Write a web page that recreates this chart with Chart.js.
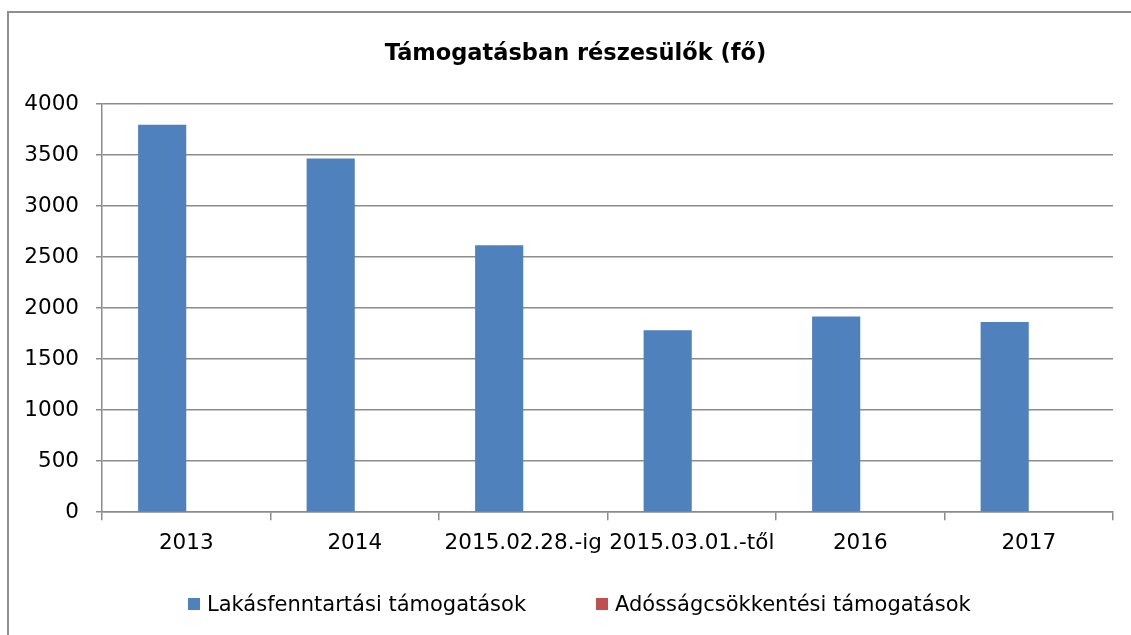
<!DOCTYPE html>
<html><head><meta charset="utf-8">
<script src="https://cdn.jsdelivr.net/npm/chart.js@4.4.1/dist/chart.umd.min.js"></script>
<style>
html,body{margin:0;padding:0;background:#fff;}
#wrap{position:relative;width:1131px;height:635px;overflow:hidden;background:#fff;}
#frame{position:absolute;left:7px;top:11px;width:1200px;height:700px;border-left:2px solid #8e8e8e;border-top:2px solid #8e8e8e;}
canvas{position:absolute;left:0;top:0;}
#legend{position:absolute;top:590px;left:0;width:1131px;height:28px;font-family:'DejaVu Sans';font-size:21px;color:#000;}
.item{position:absolute;top:0;display:flex;align-items:center;height:28px;white-space:nowrap;}
.box{width:12px;height:12px;margin-right:7px;}
</style></head>
<body>
<div id="wrap">
  <div id="frame"></div>
  <canvas id="c" width="1131" height="635"></canvas>
  <div id="legend"></div>
</div>
<script>
const categories = ['2013', '2014', '2015.02.28.-ig', '2015.03.01.-től', '2016', '2017'];
const lakasfenntartasi = [3797, 3465, 2616, 1782, 1917, 1864];
const adossagcsokkentesi = [0, 0, 0, 0, 0, 0];
const seriesNames = ['Lakásfenntartási támogatások', 'Adósságcsökkentési támogatások'];
const seriesColors = ['#4F81BD', '#C0504D'];
const yMax = 4000;
const yStep = 500;
const titleText = 'Támogatásban részesülők (fő)';

const FONT = 'DejaVu Sans';
const GRID = '#8c8c8c';

const chart = new Chart(document.getElementById('c'), {
  type: 'bar',
  data: {
    labels: categories,
    datasets: [
      { label: seriesNames[0], data: lakasfenntartasi, backgroundColor: seriesColors[0], borderWidth: 0,
        categoryPercentage: 2 / 3.5, barPercentage: 1 },
      { label: seriesNames[1], data: adossagcsokkentesi, backgroundColor: seriesColors[1], borderWidth: 0,
        categoryPercentage: 2 / 3.5, barPercentage: 1 }
    ]
  },
  options: {
    responsive: false,
    animation: false,
    devicePixelRatio: 1,
    layout: { padding: { left: 20, right: 0, top: 0, bottom: 69 } },
    plugins: {
      legend: { display: false },
      tooltip: { enabled: false },
      title: {
        display: true,
        text: titleText,
        color: '#000',
        font: { family: FONT, size: 22.5, weight: 'bold', lineHeight: 1.2 },
        padding: { top: 41, bottom: 36 }
      }
    },
    scales: {
      x: {
        grid: { display: true, drawOnChartArea: false, drawTicks: true, tickLength: 8, color: GRID, lineWidth: 1.5, offset: true },
        border: { display: true, color: GRID, width: 1.5 },
        ticks: { color: '#000', font: { family: FONT, size: 21.5, lineHeight: 1.2 }, padding: 10, maxRotation: 0, autoSkip: false }
      },
      y: {
        min: 0, max: yMax,
        grid: { color: GRID, lineWidth: 1.5, tickLength: 6, drawTicks: true },
        border: { display: true, color: GRID, width: 1.5 },
        ticks: { stepSize: yStep, color: '#000', font: { family: FONT, size: 21.5 }, padding: 17,
                 callback: (v) => String(v) },
        afterFit: (s) => { s.width = 82; }
      },
      yRight: {
        position: 'right',
        display: true,
        min: 0, max: yMax,
        grid: { display: false },
        border: { display: false },
        ticks: { display: false },
        afterFit: (s) => { s.width = 18; }
      }
    }
  }
});

const legendEl = document.getElementById('legend');
const legendLefts = [188, 596];
chart.data.datasets.forEach((ds, i) => {
  const item = document.createElement('div');
  item.className = 'item';
  item.style.left = legendLefts[i] + 'px';
  const box = document.createElement('span');
  box.className = 'box';
  box.style.background = ds.backgroundColor;
  const txt = document.createElement('span');
  txt.textContent = ds.label;
  item.appendChild(box);
  item.appendChild(txt);
  legendEl.appendChild(item);
});
</script>
</body></html>
